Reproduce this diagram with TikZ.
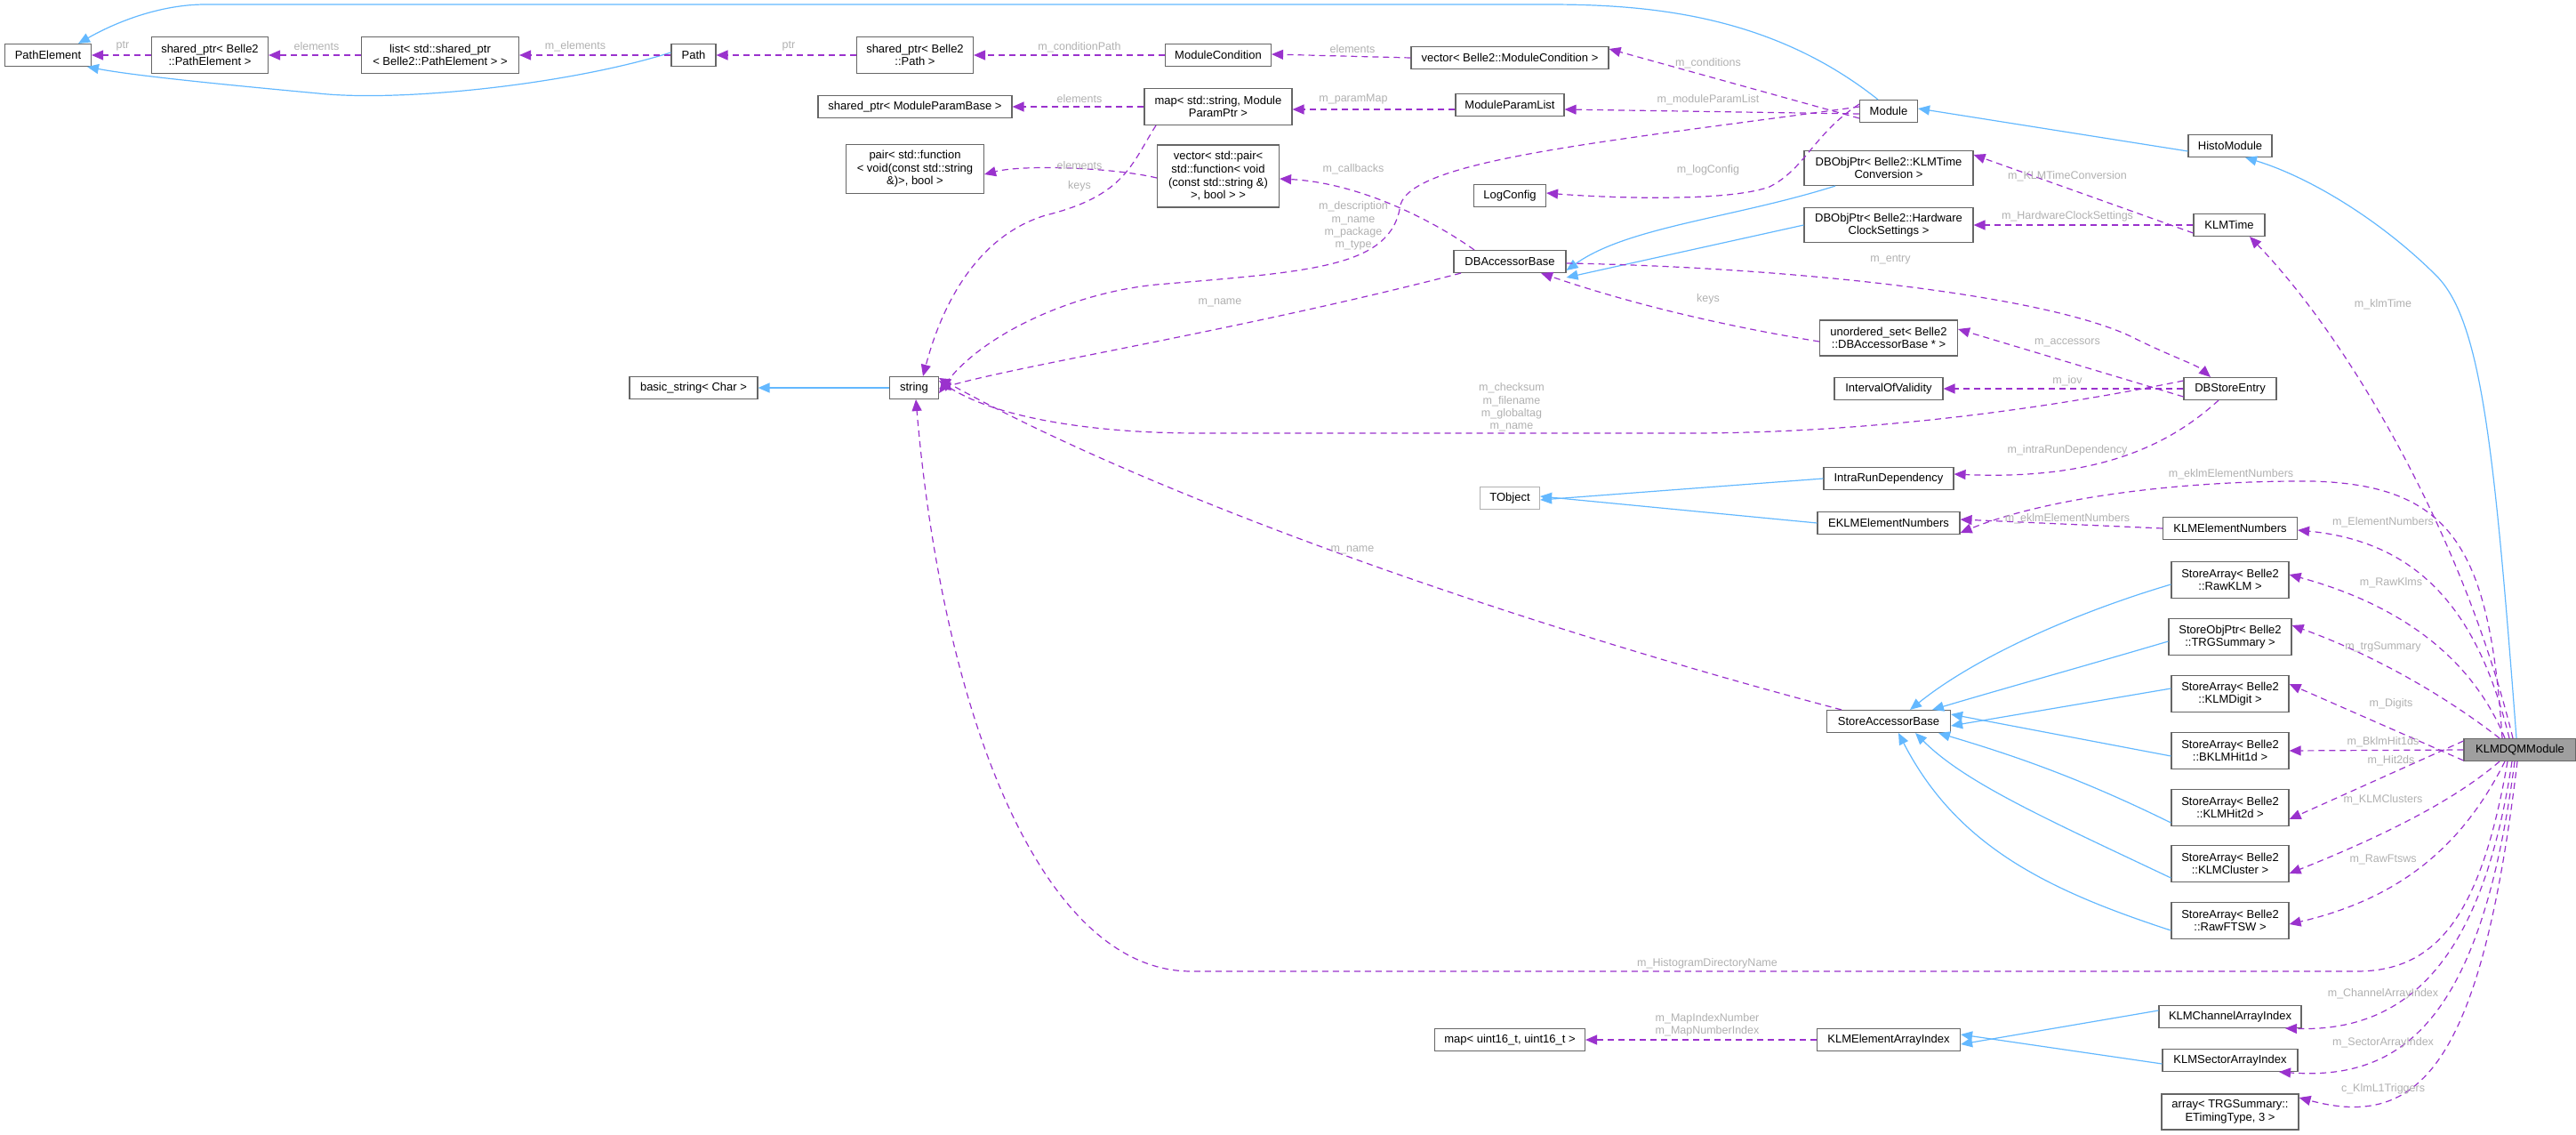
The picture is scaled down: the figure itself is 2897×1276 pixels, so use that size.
\documentclass[tikz,border=0pt]{standalone}
\usepackage{fontspec}
\setmainfont{Liberation Sans}
\usetikzlibrary{arrows.meta}
\definecolor{inh}{HTML}{63B8FF}
\definecolor{use}{HTML}{9A32CD}
\definecolor{lbl}{HTML}{B0B0B0}
\definecolor{bdr}{HTML}{666666}
\begin{document}
\begin{tikzpicture}[x=1pt,y=-1pt,
  box/.style={draw=bdr,line width=1.1pt,fill=white,align=center,inner sep=0pt,minimum height=25pt,font=\fontsize{13}{14.6}\selectfont},
  lab/.style={text=lbl,align=center,inner sep=0pt,font=\fontsize{12.5}{14.4}\selectfont},
  inherit/.style={draw=inh,line width=1.2pt,-{Triangle[length=13pt,width=11pt]}},
  uses/.style={draw=use,line width=1.2pt,dash pattern=on 7pt off 5pt,-{Triangle[length=13pt,width=11pt]}}]
\useasboundingbox (0,0) rectangle (2897,1276);
% nodes
\node[box,minimum width=97pt] (PE) at (54,62) {PathElement};
\node[box,minimum width=131pt,minimum height=41pt] (spPE) at (236,62) {shared\_ptr< Belle2\\::PathElement >};
\node[box,minimum width=177pt,minimum height=41pt] (list) at (495,62) {list< std::shared\_ptr\\< Belle2::PathElement > >};
\node[box,minimum width=50pt] (Path) at (780,62) {Path};
\node[box,minimum width=131pt,minimum height=41pt] (spPath) at (1029,62) {shared\_ptr< Belle2\\::Path >};
\node[box,minimum width=119pt] (MC) at (1370,62) {ModuleCondition};
\node[box,minimum width=222pt] (vecMC) at (1698,65) {vector< Belle2::ModuleCondition >};
\node[box,minimum width=65pt] (Module) at (2124,125) {Module};
\node[box,minimum width=94pt] (Histo) at (2508,164) {HistoModule};
\node[box,minimum width=218pt] (spMPB) at (1029,120) {shared\_ptr< ModuleParamBase >};
\node[box,minimum width=166pt,minimum height=41pt] (map) at (1370,120) {map< std::string, Module\\ParamPtr >};
\node[box,minimum width=122pt] (MPL) at (1698,118) {ModuleParamList};
\node[box,minimum width=155pt,minimum height=55pt] (pair) at (1029,190) {pair< std::function\\< void(const std::string\\\&)>, bool >};
\node[box,minimum width=137pt,minimum height=70pt] (vpair) at (1370,198) {vector< std::pair<\\std::function< void\\(const std::string \&)\\>, bool > >};
\node[box,minimum width=81pt] (Log) at (1698,220) {LogConfig};
\node[box,minimum width=126pt] (DBA) at (1698,294) {DBAccessorBase};
\node[box,minimum width=190pt,minimum height=39pt] (DBKT) at (2124,189) {DBObjPtr< Belle2::KLMTime\\Conversion >};
\node[box,minimum width=190pt,minimum height=39pt] (DBHW) at (2124,253) {DBObjPtr< Belle2::Hardware\\ClockSettings >};
\node[box,minimum width=80pt] (KT) at (2507,253) {KLMTime};
\node[box,minimum width=155pt,minimum height=40pt] (unord) at (2124,380) {unordered\_set< Belle2\\::DBAccessorBase * >};
\node[box,minimum width=122pt] (IOV) at (2124,437) {IntervalOfValidity};
\node[box,minimum width=104pt] (DBSE) at (2508,437) {DBStoreEntry};
\node[box,minimum width=144pt] (basic) at (780,436) {basic\_string< Char >};
\node[box,minimum width=55pt] (str) at (1028,436) {string};
\node[box,draw=lbl,minimum width=67pt] (TObj) at (1698,560) {TObject};
\node[box,minimum width=146pt] (IRD) at (2124,538) {IntraRunDependency};
\node[box,minimum width=160pt] (EKLM) at (2124,588) {EKLMElementNumbers};
\node[box,minimum width=151pt] (KEN) at (2508,594) {KLMElementNumbers};
\node[box,minimum width=139pt] (SAB) at (2124,811) {StoreAccessorBase};
\node[box,minimum width=132pt,minimum height=41pt] (SA1) at (2508,652) {StoreArray< Belle2\\::RawKLM >};
\node[box,minimum width=138pt,minimum height=41pt] (SA2) at (2508,716) {StoreObjPtr< Belle2\\::TRGSummary >};
\node[box,minimum width=132pt,minimum height=41pt] (SA3) at (2508,780) {StoreArray< Belle2\\::KLMDigit >};
\node[box,minimum width=132pt,minimum height=41pt] (SA4) at (2508,844) {StoreArray< Belle2\\::BKLMHit1d >};
\node[box,minimum width=132pt,minimum height=41pt] (SA5) at (2508,908) {StoreArray< Belle2\\::KLMHit2d >};
\node[box,minimum width=132pt,minimum height=41pt] (SA6) at (2508,971) {StoreArray< Belle2\\::KLMCluster >};
\node[box,minimum width=132pt,minimum height=41pt] (SA7) at (2508,1035) {StoreArray< Belle2\\::RawFTSW >};
\node[box,fill=gray!75,minimum width=126pt] (DQM) at (2834,843) {KLMDQMModule};
\node[box,minimum width=169pt] (m16) at (1698,1169) {map< uint16\_t, uint16\_t >};
\node[box,minimum width=161pt] (KEAI) at (2124,1169) {KLMElementArrayIndex};
\node[box,minimum width=160pt] (KCAI) at (2508,1143) {KLMChannelArrayIndex};
\node[box,minimum width=152pt] (KSAI) at (2508,1192) {KLMSectorArrayIndex};
\node[box,minimum width=154pt,minimum height=40pt] (arr) at (2508,1250) {array< TRGSummary::\\ETimingType, 3 >};
% inheritance
\draw[inherit] ([xshift=-12pt]Module.north) .. controls (1990,15) and (1850,5) .. (1740,5) -- (231,5) .. controls (180,5) and (130,25) .. ([xshift=34pt]PE.north);
\draw[inherit] ([yshift=3pt]Path.west) .. controls (640,95) and (450,115) .. (358,105) .. controls (250,95) and (150,85) .. ([xshift=44pt]PE.south);
\draw[inherit] ([yshift=-6pt]Histo.west) -- ([yshift=3pt]Module.east);
\draw[inherit] ([xshift=-4pt]DQM.north) .. controls (2805,500) and (2790,360) .. (2740,310) .. controls (2680,250) and (2600,200) .. ([xshift=17pt]Histo.south);
\draw[inherit] ([xshift=-60pt]DBKT.south) .. controls (1950,245) and (1830,255) .. ([yshift=-10pt]DBA.east);
\draw[inherit] (DBHW.west) -- ([yshift=-18pt]DBA.east);
\draw[inherit] (IRD.west) -- ([yshift=-2pt]TObj.east);
\draw[inherit] (EKLM.west) -- ([yshift=2pt]TObj.east);
\draw[inherit] ([yshift=-5pt]SA1.west) .. controls (2330,690) and (2220,740) .. ([xshift=24pt]SAB.north);
\draw[inherit] ([yshift=-5pt]SA2.west) .. controls (2340,750) and (2250,775) .. ([xshift=49pt]SAB.north);
\draw[inherit] ([yshift=6pt]SA3.west) -- ([yshift=-5pt]SAB.east);
\draw[inherit] ([yshift=-6pt]SA4.west) -- ([yshift=8pt]SAB.east);
\draw[inherit] ([yshift=-17pt]SA5.west) .. controls (2330,870) and (2250,845) .. ([xshift=56pt]SAB.south);
\draw[inherit] ([yshift=-16pt]SA6.west) .. controls (2300,920) and (2210,880) .. ([xshift=30pt]SAB.south);
\draw[inherit] ([yshift=-11pt]SA7.west) .. controls (2300,1000) and (2200,950) .. ([xshift=11pt]SAB.south);
\draw[inherit] ([yshift=7pt]KCAI.west) -- ([yshift=-5pt]KEAI.east);
\draw[inherit] ([yshift=-4pt]KSAI.west) -- ([yshift=6pt]KEAI.east);
\draw[inherit] (str.west) -- (basic.east);
% usage
\draw[uses] (spPE.west) -- (PE.east);
\draw[uses] (list.west) -- (spPE.east);
\draw[uses] (Path.west) -- (list.east);
\draw[uses] (spPath.west) -- (Path.east);
\draw[uses] (MC.west) -- (spPath.east);
\draw[uses] (vecMC.west) -- ([yshift=1pt]MC.east);
\draw[uses] ([yshift=-8pt]Module.west) -- ([yshift=10pt]vecMC.east);
\draw[uses] ([yshift=-3pt]Module.west) -- ([yshift=-5pt]MPL.east);
\draw[uses] ([yshift=-5pt]MPL.west) -- ([yshift=-3pt]map.east);
\draw[uses] (map.west) -- (spMPB.east);
\draw[uses] ([yshift=-2pt]vpair.west) .. controls (1250,188) and (1150,185) .. ([yshift=-6pt]pair.east);
\draw[uses] ([xshift=-70pt]map.south) .. controls (1272,185) and (1265,220) .. (1176,242) .. controls (1100,265) and (1060,340) .. ([xshift=10pt]str.north);
\draw[uses] ([yshift=5pt]Module.west) .. controls (1800,160) and (1590,180) .. (1575,230) .. controls (1565,300) and (1480,305) .. (1300,320) .. controls (1200,330) and (1100,380) .. ([yshift=-6pt]str.east);
\draw[uses] ([xshift=-55pt]DBA.south) .. controls (1400,370) and (1150,410) .. ([yshift=-1pt]str.east);
\draw[uses] ([xshift=-40pt]DBA.north) .. controls (1600,240) and (1520,205) .. ([yshift=-3pt]vpair.east);
\draw[uses] ([yshift=8pt]Module.west) .. controls (2040,150) and (2030,190) .. (1990,210) .. controls (1940,228) and (1800,222) .. ([yshift=3pt]Log.east);
\draw[uses] ([yshift=-4pt]unord.west) .. controls (1900,360) and (1800,330) .. ([xshift=35pt]DBA.south);
\draw[uses] ([yshift=-2pt]DBA.east) .. controls (2000,300) and (2300,330) .. (2400,380) .. controls (2440,400) and (2470,410) .. ([xshift=-22pt]DBSE.north);
\draw[uses] ([yshift=-9pt]DBSE.west) -- ([yshift=10pt]unord.east);
\draw[uses] (DBSE.west) -- (IOV.east);
\draw[uses] ([yshift=9pt]DBSE.west) .. controls (2200,480) and (2000,487) .. (1900,487) -- (1347,487) .. controls (1230,487) and (1120,470) .. ([yshift=8pt]str.east);
\draw[uses] ([xshift=-13pt]DBSE.south) .. controls (2440,500) and (2360,540) .. ([yshift=5pt]IRD.east);
\draw[uses] (KEN.west) -- ([yshift=4pt]EKLM.east);
\draw[uses] ([xshift=-20pt]DQM.north) .. controls (2800,620) and (2760,545) .. (2600,541) .. controls (2450,540) and (2300,560) .. ([yshift=-11pt]EKLM.east);
\draw[uses] ([xshift=-12pt]DQM.north) .. controls (2790,700) and (2730,610) .. ([yshift=-2pt]KEN.east);
\draw[uses] ([xshift=-8pt]DQM.north) .. controls (2770,600) and (2640,380) .. ([xshift=23pt]KT.south);
\draw[uses] ([yshift=-9pt]KT.west) -- ([yshift=15pt]DBKT.east);
\draw[uses] (KT.west) -- (DBHW.east);
\draw[uses] ([xshift=-17pt]DQM.north) .. controls (2780,740) and (2700,680) .. ([yshift=6pt]SA1.east);
\draw[uses] ([xshift=-23pt]DQM.north) .. controls (2760,790) and (2680,740) .. ([yshift=13pt]SA2.east);
\draw[uses] ([yshift=-12pt]DQM.west) -- ([yshift=11pt]SA3.east);
\draw[uses] (DQM.west) -- (SA4.east);
\draw[uses] ([yshift=10pt]DQM.west) -- ([yshift=-13pt]SA5.east);
\draw[uses] ([xshift=-23pt]DQM.south) .. controls (2760,900) and (2680,940) .. ([yshift=-11pt]SA6.east);
\draw[uses] ([xshift=-17pt]DQM.south) .. controls (2770,950) and (2700,1010) .. ([yshift=-4pt]SA7.east);
\draw[uses] ([xshift=-14pt]DQM.south) .. controls (2790,1030) and (2740,1092) .. (2650,1092) -- (1340,1092) .. controls (1170,1092) and (1060,800) .. ([xshift=2pt]str.south);
\draw[uses] ([xshift=-9pt]DQM.south) .. controls (2790,1090) and (2700,1160) .. ([xshift=62pt]KCAI.south);
\draw[uses] ([xshift=-6pt]DQM.south) .. controls (2790,1150) and (2700,1215) .. ([xshift=55pt]KSAI.south);
\draw[uses] ([xshift=-3pt]DQM.south) .. controls (2790,1200) and (2720,1270) .. ([yshift=16pt]arr.east);
\draw[uses] (KEAI.west) -- (m16.east);
\draw[uses] ([xshift=-53pt]SAB.north) .. controls (1700,700) and (1300,560) .. ([yshift=11pt]str.east);
% labels
\node[lab] (l1) at (138,52) {ptr};
\node[lab] (l2) at (356,52) {elements};
\node[lab] (l3) at (647,52) {m\_elements};
\node[lab] (l4) at (887,52) {ptr};
\node[lab] (l5) at (1214,53) {m\_conditionPath};
\node[lab] (l6) at (1521,55) {elements};
\node[lab] (l7) at (1921,71) {m\_conditions};
\node[lab] (l8) at (1214,111) {elements};
\node[lab] (l9) at (1522,111) {m\_paramMap};
\node[lab] (l10) at (1921,112) {m\_moduleParamList};
\node[lab] (l11) at (1214,186) {elements};
\node[lab] (l12) at (1214,209) {keys};
\node[lab] (l13) at (1522,190) {m\_callbacks};
\node[lab] (l14) at (1921,191) {m\_logConfig};
\node[lab] (l15) at (1522,254) {m\_description\\m\_name\\m\_package\\m\_type};
\node[lab] (l16) at (1372,340) {m\_name};
\node[lab] (l17) at (1921,336) {keys};
\node[lab] (l18) at (1700,458) {m\_checksum\\m\_filename\\m\_globaltag\\m\_name};
\node[lab] (l19) at (2325,198) {m\_KLMTimeConversion};
\node[lab] (l20) at (2325,243) {m\_HardwareClockSettings};
\node[lab] (l21) at (2126,292) {m\_entry};
\node[lab] (l22) at (2680,342) {m\_klmTime};
\node[lab] (l23) at (2325,385) {m\_accessors};
\node[lab] (l24) at (2325,428) {m\_iov};
\node[lab] (l25) at (2325,506) {m\_intraRunDependency};
\node[lab] (l26) at (2509,533) {m\_eklmElementNumbers};
\node[lab] (l27) at (2325,583) {m\_eklmElementNumbers};
\node[lab] (l28) at (2680,587) {m\_ElementNumbers};
\node[lab] (l29) at (1521,618) {m\_name};
\node[lab] (l30) at (2689,655) {m\_RawKlms};
\node[lab] (l31) at (2680,727) {m\_trgSummary};
\node[lab] (l32) at (2689,791) {m\_Digits};
\node[lab] (l33) at (2680,834) {m\_BklmHit1ds};
\node[lab] (l34) at (2689,855) {m\_Hit2ds};
\node[lab] (l35) at (2680,899) {m\_KLMClusters};
\node[lab] (l36) at (2680,966) {m\_RawFtsws};
\node[lab] (l37) at (1920,1083) {m\_HistogramDirectoryName};
\node[lab] (l38) at (2680,1117) {m\_ChannelArrayIndex};
\node[lab] (l39) at (2680,1172) {m\_SectorArrayIndex};
\node[lab] (l40) at (2680,1224) {c\_KlmL1Triggers};
\node[lab] (l41) at (1920,1152) {m\_MapIndexNumber\\m\_MapNumberIndex};
\end{tikzpicture}
\end{document}
